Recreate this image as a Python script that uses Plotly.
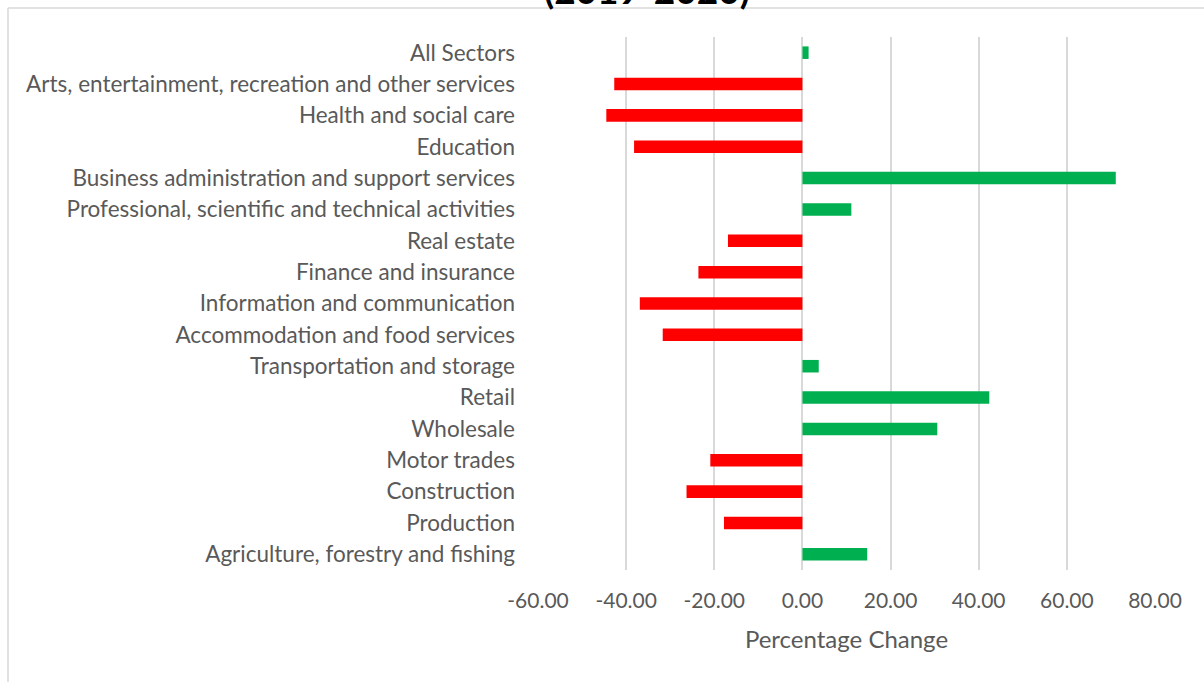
import plotly.graph_objects as go

# Sectors listed top to bottom as displayed
sectors = [
    "All Sectors",
    "Arts, entertainment, recreation and other services",
    "Health and social care",
    "Education",
    "Business administration and support services",
    "Professional, scientific and technical activities",
    "Real estate",
    "Finance and insurance",
    "Information and communication",
    "Accommodation and food services",
    "Transportation and storage",
    "Retail",
    "Wholesale",
    "Motor trades",
    "Construction",
    "Production",
    "Agriculture, forestry and fishing",
]
pct_change = [
    1.4, -42.7, -44.5, -38.2, 71.1, 11.1, -16.9, -23.6, -36.9,
    -31.7, 3.7, 42.4, 30.6, -20.9, -26.3, -17.8, 14.7,
]
x_ticks = [-60, -40, -20, 0, 20, 40, 60, 80]
x_tick_text = [f"{v:.2f}" for v in x_ticks]

RED = "#FF0000"
GREEN = "#00B050"
GRID = "#D9D9D9"
TEXT = "#595959"
FONT = "Lato"

bar_colors = [RED if v < 0 else GREEN for v in pct_change]

fig = go.Figure(
    go.Bar(
        x=pct_change,
        y=sectors,
        orientation="h",
        marker=dict(color=bar_colors, line=dict(width=0)),
        hoverinfo="x+y",
    )
)

W, H = 1204, 682
ML, MR, MT, MB = 538, 49, 37, 112
pw, ph = W - ML - MR, H - MT - MB


def px_x(p):
    return (p - ML) / pw


def px_y(p):
    return (H - MB - p) / ph


fig.update_layout(
    width=W,
    height=H,
    margin=dict(l=ML, r=MR, t=MT, b=MB, autoexpand=False),
    paper_bgcolor="white",
    plot_bgcolor="white",
    showlegend=False,
    bargap=0.6,
    font=dict(family=FONT, color=TEXT, size=20),
    xaxis=dict(
        range=[-60, 80],
        tickvals=x_ticks,
        ticktext=x_tick_text,
        showgrid=True,
        gridcolor=GRID,
        gridwidth=1.5,
        zeroline=True,
        zerolinecolor=GRID,
        zerolinewidth=1.5,
        showline=False,
        ticks="",
        ticklabelstandoff=16,
        tickfont=dict(size=21, color=TEXT, family=FONT),
        title=dict(
            text="Percentage Change",
            font=dict(size=24, color=TEXT, family=FONT),
            standoff=20,
        ),
        fixedrange=True,
    ),
    yaxis=dict(
        categoryorder="array",
        categoryarray=sectors,
        autorange="reversed",
        showgrid=False,
        showline=False,
        ticks="",
        ticklabelstandoff=22,
        tickfont=dict(size=22.5, color=TEXT, family=FONT),
        fixedrange=True,
    ),
    shapes=[
        # chart frame (top and left edges)
        dict(type="line", xref="paper", yref="paper",
             x0=px_x(8), x1=px_x(W + 5), y0=px_y(8), y1=px_y(8),
             line=dict(color=GRID, width=1.5)),
        dict(type="line", xref="paper", yref="paper",
             x0=px_x(8), x1=px_x(8), y0=px_y(8), y1=px_y(H + 5),
             line=dict(color=GRID, width=1.5)),
    ],
    annotations=[
        dict(
            text="<b>(2019-2020)</b>",
            xref="paper", yref="paper",
            x=px_x(647), y=px_y(14),
            xanchor="center", yanchor="bottom",
            showarrow=False,
            font=dict(size=37, color="#000000", family=FONT),
        )
    ],
)

fig.write_html("out.html")
